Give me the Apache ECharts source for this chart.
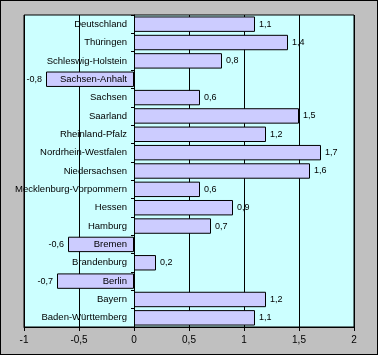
<!DOCTYPE html>
<html><head><meta charset="utf-8">
<script src="https://cdn.jsdelivr.net/npm/echarts@6/dist/echarts.min.js"></script>
<style>
html,body{margin:0;padding:0;background:#c0c0c0;}
#wrap{width:378px;height:355px;box-sizing:border-box;border:1px solid #000;background:#c0c0c0;}
#c{width:376px;height:353px;}
</style></head><body>
<div id="wrap"><div id="c"></div></div>
<script>
const categories = ["Baden-Württemberg","Bayern","Berlin","Brandenburg","Bremen","Hamburg","Hessen","Mecklenburg-Vorpommern","Niedersachsen","Nordrhein-Westfalen","Rheinland-Pfalz","Saarland","Sachsen","Sachsen-Anhalt","Schleswig-Holstein","Thüringen","Deutschland"];
const values = [1.1,1.2,-0.7,0.2,-0.6,0.7,0.9,0.6,1.6,1.7,1.2,1.5,0.6,-0.8,0.8,1.4,1.1];
const xMin = -1, xMax = 2, xStep = 0.5;
const fmt = v => String(v).replace('.', ',');
const FONT = '"Liberation Sans", Arial, sans-serif';

const W = 376, gridLeft = 23, gridRight = 23;
const plotW = W - gridLeft - gridRight;
const zeroOffset = (0 - xMin) / (xMax - xMin) * plotW;

const chart = echarts.init(document.getElementById('c'));
chart.setOption({
  animation: false,
  backgroundColor: '#c0c0c0',
  grid: {left: gridLeft, right: gridRight, top: 14, bottom: 27, outerBoundsMode: 'none', containLabel: false,
         show: true, backgroundColor: '#ccffff', borderColor: '#000', borderWidth: 1},
  xAxis: {
    type: 'value', min: xMin, max: xMax, interval: xStep,
    axisLine: {show: true, onZero: false, lineStyle: {color: '#000'}},
    axisTick: {show: true, length: 4, lineStyle: {color: '#000'}},
    axisLabel: {formatter: fmt, color: '#000', fontSize: 10, fontFamily: FONT, margin: 8},
    splitLine: {show: true, lineStyle: {color: '#000', width: 1}}
  },
  yAxis: {
    type: 'category', data: categories, z: 5, position: 'left', offset: -zeroOffset,
    axisLine: {show: true, onZero: false, lineStyle: {color: '#000'}},
    axisTick: {show: true, length: 3, lineStyle: {color: '#000'}},
    axisLabel: {color: '#000', fontSize: 9.5, fontFamily: FONT, margin: 7},
    splitLine: {show: false}
  },
  series: [{
    type: 'bar', barCategoryGap: '16%',
    data: values.map(v => v < 0 ? {value: v, label: {position: 'left'}} : v),
    itemStyle: {color: '#ccccff', borderColor: '#000', borderWidth: 1},
    label: {
      show: true, fontSize: 9, fontFamily: FONT, color: '#000', distance: 4,
      formatter: p => fmt(p.value),
      position: 'right'
    }
  }]
});
</script>
</body></html>
